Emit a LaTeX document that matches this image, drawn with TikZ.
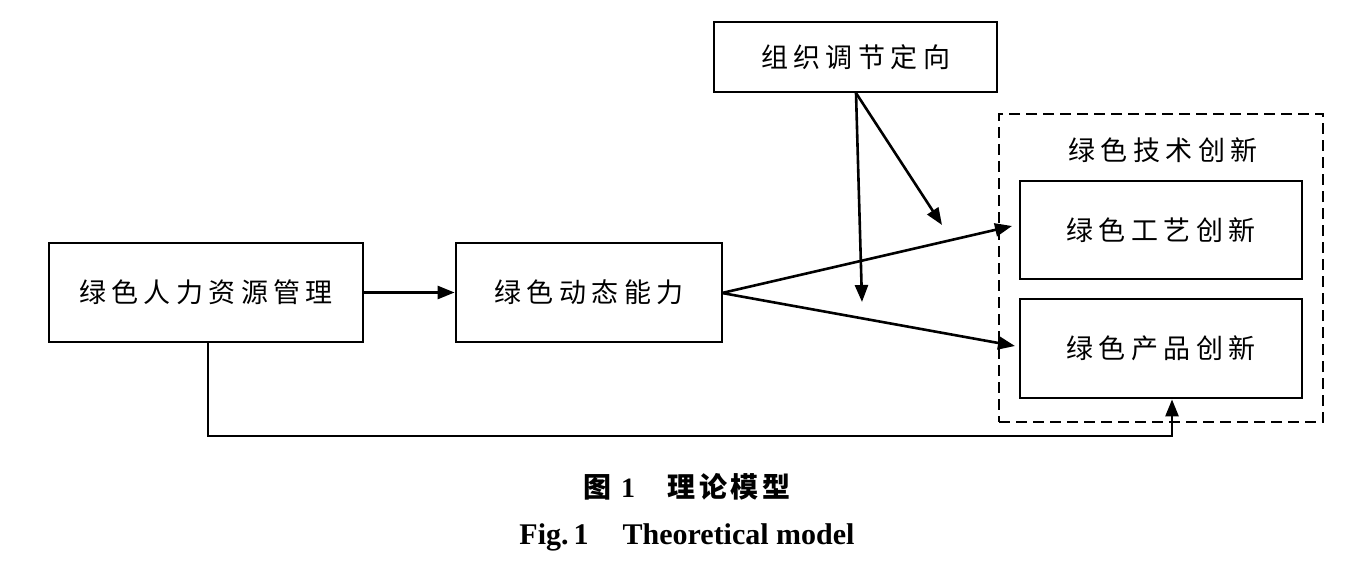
\documentclass[tikz,border=0pt]{standalone}
\usepackage{fontspec}
\setmainfont{Liberation Serif}
\newfontfamily\cjk[LetterSpace=20]{Noto Sans CJK SC}
\newfontfamily\cjkcap[LetterSpace=14]{Noto Sans CJK SC}
\usetikzlibrary{arrows.meta}
\begin{document}
\begin{tikzpicture}[x=1pt,y=-1pt,
  box/.style={draw,line width=2.8pt,minimum width=#1,inner sep=0pt},
  txt/.style={font=\fontsize{27}{30}\selectfont\cjk},
  arr/.style={line width=2.6pt,-{Triangle[length=17pt,width=13pt]}},
  dbox/.style={draw,line width=2.8pt,dash pattern=on 11pt off 6pt}]
\useasboundingbox (0,0) rectangle (1364,580);
% boxes
\node[box=314pt,minimum height=99pt,txt] (hrm) at (206,292.5) {绿色人力资源管理};
\node[box=266pt,minimum height=99pt,txt] (dyn) at (589,292.5) {绿色动态能力};
\node[box=283pt,minimum height=70pt,txt] (org) at (855.5,57) {组织调节定向};
\node[dbox,minimum width=324pt,minimum height=308pt] (tech) at (1161,268) {};
\node[txt] (techlab) at (1163,150) {绿色技术创新};
\node[box=282pt,minimum height=98pt,txt] (proc) at (1161,230) {绿色工艺创新};
\node[box=282pt,minimum height=99pt,txt] (prod) at (1161,348.5) {绿色产品创新};
% coordinates
\coordinate (dynout) at (722,293);
\coordinate (orgout) at (856,93);
\coordinate (t1) at (1012,226);
\coordinate (t2) at (1015,346);
\coordinate (t3) at (862,302);
\coordinate (t4) at (942,225);
\coordinate (b1) at (208,436);
\coordinate (b2) at (1172,436);
% connectors
\draw[arr] (hrm.east) -- (dyn.west);
\draw[arr] (dynout) -- (t1);
\draw[arr] (dynout) -- (t2);
\draw[arr] (orgout) -- (t3);
\draw[arr] (orgout) -- (t4);
\draw[arr] (hrm.south -| b1) -- (b1) -- (b2) -- (prod.south -| b2);
% caption
\node[font=\fontsize{28}{32}\selectfont\bfseries] (cap1) at (687,487)
  {{\cjkcap\bfseries 图}\hspace{10pt}1\hspace{32pt}{\cjkcap\bfseries 理论模型}};
\node[font=\fontsize{30}{34}\selectfont\bfseries] (cap2) at (687,537)
  {Fig.\,1\hspace{34pt}Theoretical model};
\end{tikzpicture}
\end{document}
